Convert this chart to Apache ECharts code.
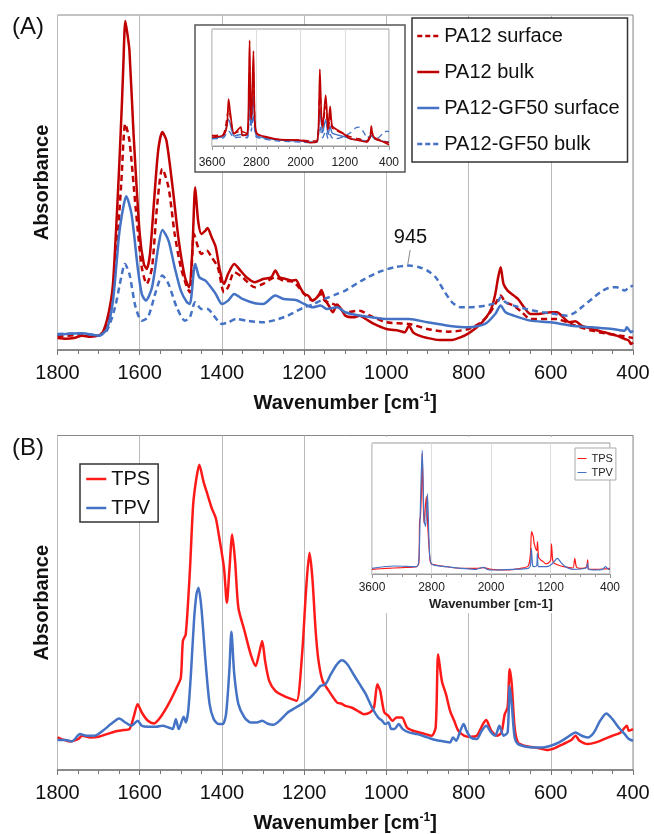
<!DOCTYPE html>
<html><head><meta charset="utf-8">
<script src="https://cdn.jsdelivr.net/npm/echarts@6/dist/echarts.min.js"></script>
<style>html,body{margin:0;padding:0;background:#fff}#c{width:654px;height:834px}</style>
</head><body><div id="c"></div>
<script>
// ---------- Panel A (main) : [wavenumber, absorbance (arb.)] ----------
const pa12Bulk = [[1800,36],[1780,34],[1760,36],[1740,43],[1720,40],[1700,43],[1690,53],[1680,88],[1670,148],[1665,198],[1658,348],[1650,548],[1643,748],[1640,848],[1635,986],[1630,948],[1625,898],[1615,648],[1600,348],[1590,258],[1583,243],[1575,288],[1565,448],[1555,598],[1545,653],[1535,628],[1520,488],[1505,328],[1490,218],[1480,188],[1472,298],[1465,488],[1458,388],[1450,348],[1440,358],[1435,366],[1425,338],[1415,308],[1405,238],[1395,198],[1385,228],[1370,258],[1355,238],[1340,218],[1320,203],[1300,213],[1280,218],[1270,238],[1260,218],[1245,213],[1230,208],[1220,210],[1210,188],[1200,168],[1190,163],[1180,148],[1165,163],[1158,180],[1150,153],[1140,133],[1130,113],[1120,136],[1110,123],[1100,103],[1080,98],[1065,103],[1050,93],[1030,78],[1000,63],[970,58],[955,53],[945,73],[935,53],[920,43],[900,36],[870,30],[840,30],[820,38],[800,50],[780,68],[760,93],[745,123],[735,168],[728,218],[722,248],[715,198],[705,178],[690,163],[680,153],[665,128],[650,108],[630,108],[600,113],[585,113],[570,98],[555,83],[540,86],[525,73],[500,63],[470,53],[440,43],[420,33],[410,28],[405,18],[400,23]];
const pa12Surface = [[1800,41],[1740,45],[1700,43],[1680,78],[1670,128],[1660,228],[1645,498],[1635,678],[1625,628],[1610,428],[1595,248],[1583,198],[1570,248],[1558,428],[1545,543],[1530,488],[1515,348],[1500,248],[1485,188],[1478,173],[1468,348],[1458,308],[1450,288],[1437,298],[1425,278],[1410,248],[1395,173],[1385,188],[1370,233],[1350,218],[1320,188],[1300,198],[1270,218],[1250,208],[1225,203],[1200,168],[1180,148],[1160,168],[1150,148],[1120,133],[1100,113],[1065,118],[1040,103],[1000,83],[945,78],[900,63],[850,55],[800,63],[770,83],[750,108],[735,138],[722,163],[710,143],[690,133],[670,113],[650,93],[600,93],[585,93],[560,83],[540,73],[500,58],[460,48],[430,43],[400,36]];
const gf50Surface = [[1800,46],[1740,50],[1700,43],[1680,63],[1665,148],[1650,348],[1640,428],[1633,461],[1620,408],[1605,248],[1595,168],[1585,148],[1570,188],[1555,308],[1545,360],[1530,328],[1515,248],[1500,178],[1485,143],[1478,138],[1465,258],[1455,218],[1440,208],[1430,193],[1415,168],[1400,138],[1385,148],[1370,168],[1350,153],[1320,140],[1300,138],[1270,163],[1250,153],[1220,150],[1200,138],[1180,128],[1160,133],[1145,123],[1120,128],[1100,113],[1065,103],[1000,93],[945,93],[900,83],[850,73],[800,68],[760,78],[735,108],[722,133],[710,113],[690,103],[650,88],[600,83],[550,73],[500,68],[450,63],[420,58],[415,68],[405,53],[400,58]];
const gf50Bulk = [[1800,48],[1740,50],[1700,43],[1680,58],[1660,128],[1645,218],[1636,258],[1625,228],[1610,128],[1595,88],[1580,98],[1560,178],[1545,223],[1530,198],[1510,128],[1490,88],[1478,98],[1465,143],[1450,123],[1435,123],[1420,103],[1400,78],[1385,83],[1365,93],[1340,88],[1300,83],[1270,90],[1240,103],[1200,128],[1180,136],[1160,148],[1140,158],[1120,168],[1100,178],[1060,208],[1020,233],[980,248],[945,253],[920,248],[900,238],[880,218],[860,178],[840,143],[820,128],[800,128],[760,133],[730,143],[722,158],[710,143],[690,133],[660,123],[620,113],[590,108],[560,103],[540,113],[520,133],[500,153],[480,173],[460,186],[440,188],[420,178],[410,188],[400,193]];
const peakLabel = '945';
const peakLeader = [[948,256],[942,300]];

// ---------- Panel A (inset, 3600-400) ----------
const inA_pa12Bulk = [[3600,27],[3400,32],[3330,62],[3300,142],[3270,102],[3200,37],[3080,57],[3050,32],[2960,37],[2935,182],[2920,320],[2905,132],[2890,82],[2870,182],[2850,287],[2835,132],[2820,62],[2780,37],[2600,27],[2400,20],[2000,17],[1800,10],[1700,14],[1670,82],[1650,232],[1620,82],[1600,62],[1545,154],[1500,52],[1465,120],[1430,62],[1370,52],[1260,42],[1200,34],[1100,22],[945,17],[800,12],[740,27],[720,60],[700,37],[650,22],[500,12],[400,4]];
const inA_pa12Surface = [[3600,32],[3400,35],[3300,110],[3200,38],[3080,45],[2960,37],[2935,140],[2920,240],[2890,80],[2850,220],[2820,55],[2780,35],[2400,20],[2000,18],[1800,15],[1700,15],[1650,165],[1600,55],[1545,120],[1500,45],[1465,90],[1430,55],[1370,48],[1200,35],[1100,28],[945,22],[800,15],[720,45],[650,25],[400,10]];
const inA_gf50Surface = [[3600,25],[3400,28],[3300,80],[3200,30],[3080,35],[2960,30],[2935,100],[2920,170],[2890,60],[2850,150],[2820,45],[2780,30],[2400,18],[2000,15],[1800,12],[1700,14],[1650,110],[1600,40],[1545,80],[1500,35],[1465,60],[1430,40],[1370,35],[1200,28],[1100,22],[945,18],[800,15],[720,30],[650,20],[400,12]];
const inA_gf50Bulk = [[3600,22],[3400,24],[3300,45],[3200,25],[3080,27],[2960,25],[2935,70],[2920,110],[2890,45],[2850,95],[2820,35],[2780,25],[2400,15],[2000,12],[1800,10],[1700,12],[1650,60],[1600,25],[1545,45],[1500,22],[1465,35],[1430,25],[1370,22],[1200,30],[1100,40],[1000,55],[945,57],[850,40],[800,25],[720,32],[600,25],[500,40],[430,45],[400,42]];

// ---------- Panel B (main) ----------
const tps = [[1800,98],[1790,93],[1770,86],[1750,93],[1740,103],[1720,98],[1700,100],[1680,108],[1660,116],[1640,120],[1625,123],[1615,158],[1605,198],[1595,173],[1580,148],[1565,140],[1550,158],[1530,198],[1510,248],[1500,278],[1495,388],[1488,408],[1478,598],[1470,798],[1462,878],[1455,918],[1445,868],[1435,828],[1425,788],[1415,758],[1405,688],[1395,608],[1388,503],[1382,598],[1375,708],[1368,628],[1360,488],[1345,418],[1330,348],[1318,313],[1310,348],[1302,388],[1295,328],[1285,268],[1270,238],[1250,223],[1230,213],[1218,208],[1205,348],[1195,548],[1187,653],[1180,578],[1172,418],[1165,328],[1155,268],[1140,238],[1120,203],[1110,200],[1100,193],[1085,188],[1070,178],[1055,168],[1040,173],[1030,188],[1022,258],[1015,238],[1005,173],[995,163],[985,148],[975,158],[962,158],[950,128],[935,118],[920,113],[905,108],[890,103],[880,128],[874,348],[865,268],[855,228],[845,178],[835,148],[825,118],[810,103],[795,100],[780,103],[765,138],[757,150],[745,118],[730,103],[720,113],[712,168],[705,188],[700,303],[695,258],[688,128],[680,83],[665,73],[640,68],[620,63],[610,60],[590,66],[570,78],[550,90],[540,103],[530,88],[510,78],[490,83],[470,93],[450,103],[430,113],[415,133],[410,118],[400,123]];
const tpv = [[1800,90],[1780,90],[1765,86],[1745,108],[1730,103],[1710,103],[1690,118],[1670,138],[1650,155],[1635,143],[1620,133],[1605,148],[1595,133],[1580,130],[1560,130],[1545,133],[1530,128],[1520,123],[1512,153],[1505,123],[1493,160],[1488,143],[1482,178],[1475,298],[1468,448],[1462,528],[1457,548],[1450,488],[1440,328],[1430,198],[1420,153],[1408,138],[1398,138],[1390,168],[1382,298],[1377,416],[1370,288],[1360,198],[1345,158],[1330,143],[1315,143],[1302,148],[1290,140],[1275,136],[1260,148],[1240,173],[1220,188],[1200,203],[1185,218],[1170,238],[1160,253],[1148,258],[1135,288],[1120,318],[1108,330],[1095,318],[1080,288],[1065,258],[1050,228],[1035,188],[1020,158],[1010,148],[1003,138],[995,143],[988,123],[980,123],[970,138],[960,123],[945,113],[925,108],[900,98],[880,90],[860,86],[845,83],[838,98],[830,88],[820,118],[812,138],[805,118],[795,98],[780,93],[768,118],[757,133],[745,113],[735,103],[725,133],[715,103],[705,113],[700,253],[695,198],[688,98],[680,78],[660,70],[640,68],[620,68],[600,73],[580,83],[560,98],[540,113],[525,103],[510,98],[495,113],[480,148],[465,170],[450,153],[435,128],[420,108],[410,93],[400,88]];

// ---------- Panel B (inset, 3600-400) ----------
const inB_tps = [[3600,14],[3400,17],[3200,19],[3000,22],[2970,32],[2960,162],[2950,167],[2935,250],[2925,360],[2912,230],[2900,152],[2870,232],[2850,142],[2820,42],[2800,30],[2600,22],[2400,17],[2200,17],[2100,19],[2000,14],[1800,12],[1600,17],[1500,24],[1470,60],[1455,127],[1430,110],[1420,92],[1385,70],[1375,97],[1360,50],[1330,42],[1300,37],[1260,30],[1200,40],[1187,90],[1170,40],[1150,32],[1100,27],[1022,22],[900,18],[874,47],[850,20],[800,17],[720,20],[700,42],[690,15],[600,14],[500,15],[400,17]];
const inB_tpv = [[3600,17],[3300,24],[3000,22],[2970,42],[2955,152],[2940,280],[2925,370],[2910,250],[2900,162],[2880,142],[2855,240],[2830,82],[2800,30],[2600,22],[2200,14],[2100,20],[2050,14],[2000,12],[1700,14],[1500,17],[1470,25],[1457,77],[1440,25],[1420,22],[1385,25],[1377,62],[1365,22],[1340,22],[1250,22],[1180,30],[1108,47],[1050,32],[1000,22],[900,14],[720,18],[700,32],[690,14],[600,12],[500,14],[460,22],[420,14],[400,14]];

const tickStep = 200, insetStep = 800;
const FONT = 'Liberation Sans, Arial, sans-serif';
const RED_A = '#C00000', BLUE = '#4472C4', RED_B = '#FF1A1A';
const DASH = [6, 4];
const plain = v => String(v);

function line(name, data, idx, color, dashed, width, z, extra) {
  return Object.assign({
    name, type: 'line', data, xAxisIndex: idx, yAxisIndex: idx,
    showSymbol: false, symbol: 'none', smooth: 0.25, z: z || 2,
    lineStyle: {color, width, type: dashed ? DASH : 'solid'},
    itemStyle: {color}, silent: true
  }, extra || {});
}

function mainX(idx) {
  return {
    gridIndex: idx, type: 'value', min: 400, max: 1800, inverse: true, interval: tickStep,
    axisLine: {lineStyle: {color: '#777', width: 1.5}},
    axisTick: {length: 5, lineStyle: {color: '#777'}},
    minorTick: {show: true, splitNumber: 4, length: 4, lineStyle: {color: '#777'}},
    axisLabel: {fontSize: 20, color: '#111', margin: 13, fontFamily: FONT, formatter: plain},
    splitLine: {show: true, lineStyle: {color: '#bbb'}},
    name: 'Wavenumber [cm{sup|-1}]', nameLocation: 'middle', nameGap: 42,
    nameTextStyle: {fontSize: 20, fontWeight: 'bold', color: '#111', fontFamily: FONT,
      rich: {sup: {fontSize: 12, fontWeight: 'bold', color: '#111', verticalAlign: 'top', padding: [0, 0, 10, 0], fontFamily: FONT}}}
  };
}
function insetX(idx, withName, margin) {
  return {
    gridIndex: idx, type: 'value', min: 400, max: 3600, inverse: true, interval: insetStep, z: 60,
    axisLine: {lineStyle: {color: '#999', width: 1}},
    axisTick: {length: 4, lineStyle: {color: '#999'}},
    minorTick: {show: true, splitNumber: 4, length: 3, lineStyle: {color: '#999'}},
    axisLabel: {fontSize: 12, color: '#222', margin, fontFamily: FONT, formatter: plain},
    splitLine: {show: true, lineStyle: {color: '#ddd'}},
    name: withName ? 'Wavenumber [cm-1]' : '', nameLocation: 'middle', nameGap: 24,
    nameTextStyle: {fontSize: 13, fontWeight: 'bold', color: '#222', fontFamily: FONT}
  };
}
function yAx(idx, max, name, z) {
  return {
    gridIndex: idx, type: 'value', min: 0, max, z: z || 0,
    axisLine: {show: false}, axisTick: {show: false}, axisLabel: {show: false}, splitLine: {show: false},
    name: name || '', nameLocation: 'middle', nameRotate: 90, nameGap: 5,
    nameTextStyle: {fontSize: 20, fontWeight: 'bold', color: '#111', fontFamily: FONT}
  };
}

const chart = echarts.init(document.getElementById('c'), null, {renderer: 'canvas'});
chart.setOption({
  animation: false,
  backgroundColor: '#fff',
  textStyle: {fontFamily: FONT},
  title: [
    {text: '(A)', left: 12, top: 15, padding: 0, textStyle: {fontSize: 24, fontWeight: 'normal', color: '#111', fontFamily: FONT}},
    {text: '(B)', left: 12, top: 436, padding: 0, textStyle: {fontSize: 24, fontWeight: 'normal', color: '#111', fontFamily: FONT}}
  ],
  graphic: [
    {type: 'rect', shape: {x: 195, y: 25, width: 210, height: 147}, style: {fill: '#fff', stroke: '#555', lineWidth: 1.5}, z: 50, silent: true},
    {type: 'rect', shape: {x: 352, y: 437, width: 279, height: 176}, style: {fill: '#fff'}, z: 50, silent: true}
  ],
  grid: [
    {left: 57.5, top: 15, width: 575.5, height: 335, show: true, borderColor: '#888', borderWidth: 1},
    {left: 212, top: 29, width: 177, height: 117, show: true, borderColor: '#999', borderWidth: 1, z: 60},
    {left: 57.5, top: 435.5, width: 575.5, height: 334.5, show: true, borderColor: '#888', borderWidth: 1},
    {left: 372, top: 443, width: 238, height: 131, show: true, borderColor: '#999', borderWidth: 1, z: 60}
  ],
  legend: [
    {data: [
       {name: 'PA12 surface', lineStyle: {type: [5, 3], width: 2.5}},
       {name: 'PA12 bulk', lineStyle: {type: 'solid', width: 2.5}},
       {name: 'PA12-GF50 surface', lineStyle: {type: 'solid', width: 2.5}},
       {name: 'PA12-GF50 bulk', lineStyle: {type: [5, 3], width: 2.5}}],
     orient: 'vertical',
     left: 412, top: 18, itemWidth: 22, itemHeight: 20, itemGap: 16, padding: [8, 8, 8, 4],
     borderColor: '#333', borderWidth: 1.5, backgroundColor: '#fff', selectedMode: false,
     itemStyle: {opacity: 0},
     textStyle: {fontSize: 20, color: '#111', fontFamily: FONT}},
    {data: ['TPS', 'TPV'], orient: 'vertical', left: 80, top: 464, itemWidth: 20, itemHeight: 20, itemGap: 9,
     padding: [5, 8, 4, 5], borderColor: '#333', borderWidth: 1.5, backgroundColor: '#fff', selectedMode: false,
     itemStyle: {opacity: 0}, lineStyle: {width: 2.5},
     textStyle: {fontSize: 20, color: '#111', fontFamily: FONT}},
    {data: ['TPS', 'TPV'], orient: 'vertical', left: 575, top: 448, itemWidth: 9, itemHeight: 10, itemGap: 3,
     padding: [5, 3, 2, 2], borderColor: '#aaa', borderWidth: 1, backgroundColor: '#fff', selectedMode: false, z: 70,
     itemStyle: {opacity: 0}, lineStyle: {width: 1}, textStyle: {fontSize: 11, color: '#222', fontFamily: FONT}}
  ],
  xAxis: [mainX(0), insetX(1, false, 11), mainX(2), insetX(3, true, 8)],
  yAxis: [yAx(0, 1004, 'Absorbance'), yAx(1, 354, '', 60), yAx(2, 1006, 'Absorbance'), yAx(3, 392, '', 60)],
  series: [
    line('PA12 surface', pa12Surface, 0, RED_A, true, 2.5),
    line('PA12 bulk', pa12Bulk, 0, RED_A, false, 2.5),
    line('PA12-GF50 surface', gf50Surface, 0, BLUE, false, 2.5),
    line('PA12-GF50 bulk', gf50Bulk, 0, BLUE, true, 2.5, 2, {
      markLine: {silent: true, symbol: ['none', 'none'], animation: false,
        lineStyle: {color: '#888', width: 1, type: 'solid'},
        label: {show: true, position: 'end', formatter: peakLabel, fontSize: 20, color: '#111', distance: 2, fontFamily: FONT},
        data: [[{coord: peakLeader[0]}, {coord: peakLeader[1]}]]}
    }),
    line('PA12-GF50 bulk', inA_gf50Bulk, 1, BLUE, true, 1.3, 61),
    line('PA12-GF50 surface', inA_gf50Surface, 1, BLUE, false, 1.4, 61),
    line('PA12 surface', inA_pa12Surface, 1, RED_A, true, 1.4, 61),
    line('PA12 bulk', inA_pa12Bulk, 1, RED_A, false, 1.7, 61),
    line('TPS', tps, 2, RED_B, false, 2.5),
    line('TPV', tpv, 2, BLUE, false, 2.5),
    line('TPS', inB_tps, 3, RED_B, false, 1.2, 61),
    line('TPV', inB_tpv, 3, BLUE, false, 1.2, 62)
  ]
});
</script></body></html>
